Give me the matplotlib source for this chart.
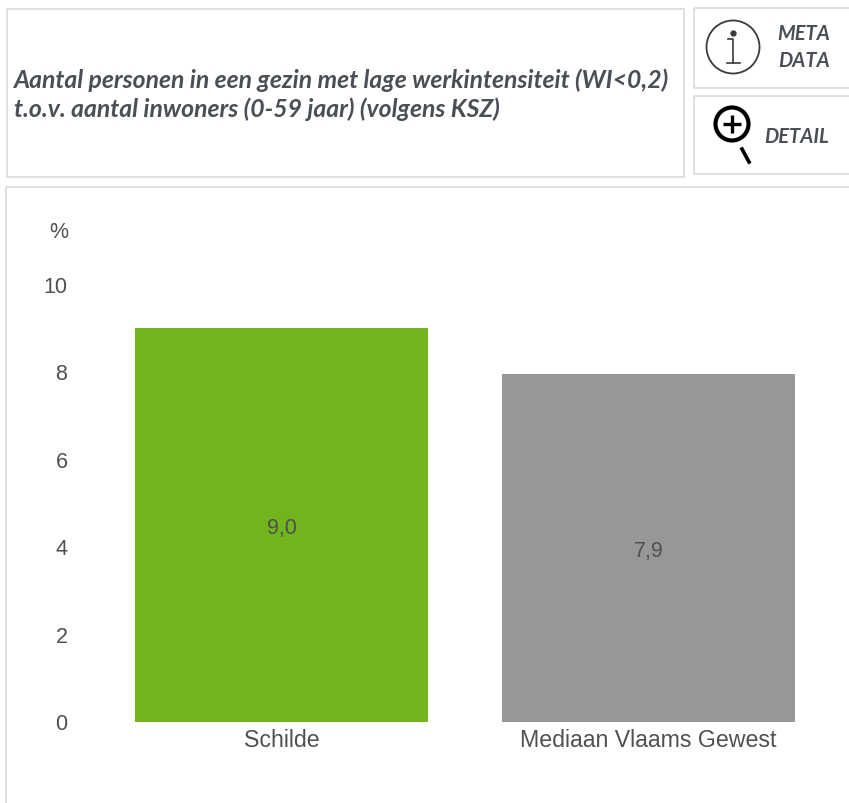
import matplotlib
matplotlib.use('Agg')
import matplotlib.pyplot as plt
from matplotlib.patches import Rectangle, Circle

categories = ['Schilde', 'Mediaan Vlaams Gewest']
waarden = [9.0, 7.95]
waarde_labels = ['9,0', '7,9']
kleuren = ['#71B41E', '#979797']
y_ticks = [0, 2, 4, 6, 8, 10]

W, H = 849, 804
TITEL = ('Aantal personen in een gezin met lage werkintensiteit (WI<0,2)\n'
         't.o.v. aantal inwoners (0-59 jaar) (volgens KSZ)')
RAND = '#DADADA'
TEKST = '#505050'
KOP = '#4A4F55'
ICON = '#3A3A3A'

fig = plt.figure(figsize=(W / 100, H / 100), dpi=100, facecolor='white')

# overlay in pixels for the boxes around the chart
bg = fig.add_axes([0, 0, 1, 1])
bg.set_xlim(0, W)
bg.set_ylim(H, 0)
bg.axis('off')

def kader(x0, y0, x1, y1):
    bg.add_patch(Rectangle((x0, y0), x1 - x0, y1 - y0, fill=False, edgecolor=RAND, linewidth=1.2))

kader(7.5, 9.5, 684, 177.5)
kader(694, 9, 860, 88.5)
kader(694, 96.5, 860, 175)
kader(6, 188, 860, 830)

bg.text(14, 95, TITEL, family='Lato', style='italic', weight='bold', fontsize=17.8,
        color=KOP, va='center', ha='left', linespacing=1.28)

# info icon
bg.add_patch(Circle((733, 48), 26.5, fill=False, edgecolor=ICON, linewidth=1.3))
bg.plot([733], [34], marker='o', ms=3.5, color=ICON)
bg.plot([728, 733, 733], [40, 40, 64], color=ICON, lw=1.2)
bg.plot([727, 740], [64, 64], color=ICON, lw=1.2)
bg.text(804, 47.5, 'META\nDATA', family='Lato', style='italic', weight='bold', fontsize=14.5,
        color=KOP, ha='center', va='center', linespacing=1.38)

# magnifier icon
bg.add_patch(Circle((732, 125), 16.5, fill=False, edgecolor='black', linewidth=3))
bg.plot([723, 741], [125, 125], color='black', lw=2.4, solid_capstyle='butt')
bg.plot([732, 732], [116, 134], color='black', lw=2.4, solid_capstyle='butt')
bg.plot([742, 749], [150, 163], color='black', lw=2.6)
bg.text(796.5, 137, 'DETAIL', family='Lato', style='italic', weight='bold', fontsize=14.5,
        color=KOP, ha='center', va='center')

# chart
ax = fig.add_axes([98 / W, 1 - 722.5 / H, (832 - 98) / W, (722.5 - 285) / H])
ax.patch.set_alpha(0)
posities = list(range(len(categories)))
ax.bar(posities, waarden, width=0.8, color=kleuren)
ax.set_xlim(-0.5, 1.5)
ax.set_ylim(0, 10)
ax.set_yticks(y_ticks)
ax.set_yticklabels([str(t) for t in y_ticks])
ax.set_xticks(posities)
ax.set_xticklabels(categories)
ax.tick_params(axis='both', length=0, labelcolor=TEKST, labelfontfamily='Liberation Sans')
ax.tick_params(axis='y', pad=22, labelsize=15.5)
ax.tick_params(axis='x', pad=4.5, labelsize=16.7)
for s in ax.spines.values():
    s.set_visible(False)

for p, v, lab in zip(posities, waarden, waarde_labels):
    ax.annotate(lab, (p, v / 2), xytext=(0, -3), textcoords='offset pixels', ha='center', va='center',
                family='Liberation Sans', fontsize=15.5, color=TEKST)

bg.text(59, 232, '%', family='Liberation Sans', fontsize=15.5, color=TEKST, ha='center', va='center')

fig.savefig('out.png', dpi=100)
